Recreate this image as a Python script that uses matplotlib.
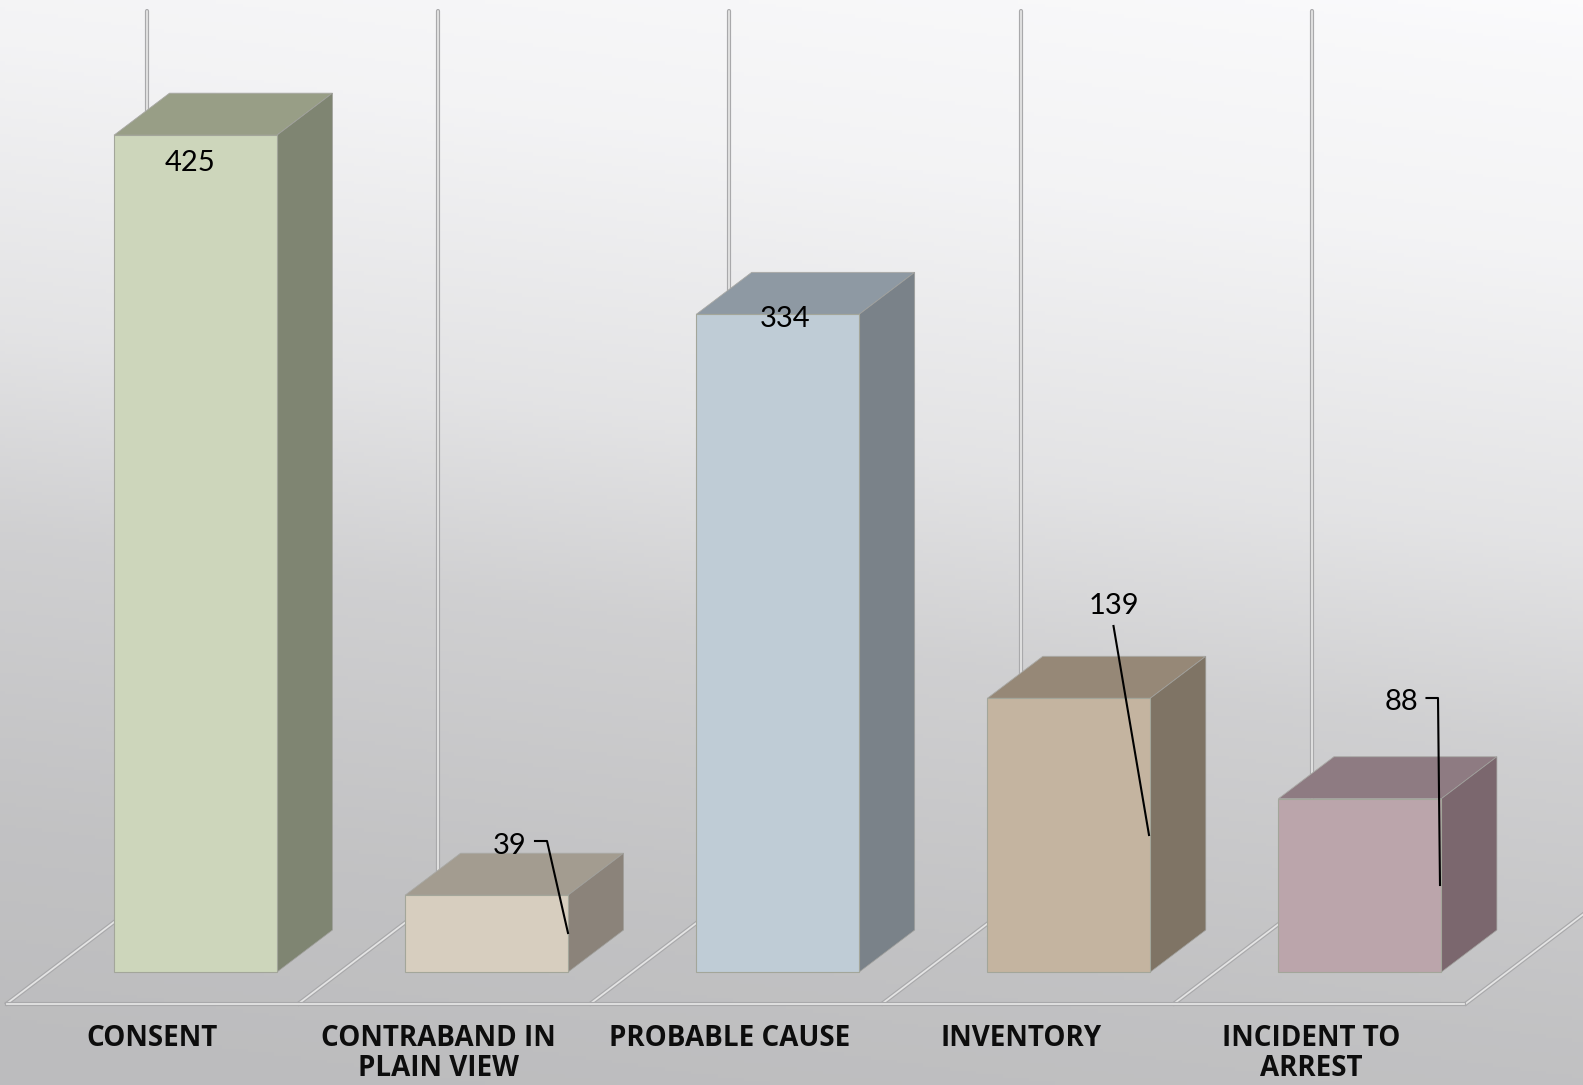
# Search basis bar chart, drawn as fake 3D columns
import numpy as np
import matplotlib
matplotlib.use('Agg')
import matplotlib.pyplot as plt

categories = ['CONSENT', 'CONTRABAND IN\nPLAIN VIEW', 'PROBABLE CAUSE', 'INVENTORY', 'INCIDENT TO\nARREST']
values = [425, 39, 334, 139, 88]
front_colors = ['#cdd6bb', '#d7cebf', '#bfccd6', '#c4b4a0', '#bba5ab']
top_colors = ['#989e86', '#a39c90', '#8e99a3', '#968877', '#8e7b82']
side_colors = ['#7f8572', '#8b837a', '#7a8289', '#7f7465', '#7b676e']

W, H = 1583, 1085
step_px = 291.1          # px between categories
first_px = 195.5         # px of first bar centre
base_px = 972            # px of value 0
unit_px = 1.969          # px per unit

fig = plt.figure(figsize=(W / 100, H / 100), dpi=100)
ax = fig.add_axes([0, 0, 1, 1])
ax.set_xlim(-first_px / step_px, (W - first_px) / step_px)
ax.set_ylim((base_px - H) / unit_px, base_px / unit_px)
ax.axis('off')


def px(x, y):
    # picture pixels to data coordinates, for labels and leaders
    return (x - first_px) / step_px, (base_px - y) / unit_px


# background gradient, tilted
yy, xx = np.mgrid[0:H:300j, 0:W:300j]
t = yy / H + 0.2 * (W - xx) / W
grey = np.interp(t, [0.0, 0.05, 0.24, 0.505, 0.69, 0.835, 0.965, 1.15],
                 [0.985, 0.975, 0.953, 0.89, 0.815, 0.785, 0.76, 0.74])
x0, x1 = ax.get_xlim()
y0, y1 = ax.get_ylim()
ax.imshow(np.dstack([grey, grey, grey + 0.006]).clip(0, 1), extent=[x0, x1, y0, y1],
          origin='upper', aspect='auto', zorder=0)
ax.set_xlim(x0, x1)
ax.set_ylim(y0, y1)

bar_w = 163 / step_px
depth_x = 55.5 / step_px
depth_y = 42 / unit_px

# floor and wall lines
floor_y = px(0, 1003.5)[1]
back_y = px(0, 897)[1]
top_y = px(0, 11)[1]
line_styles = [('#a9a9ab', 3.0), ('#e4e4e4', 1.3)]
for i in range(6):
    fx = px(7 + 291.8 * i, 0)[0]
    bx = px(147 + 291.2 * i, 0)[0]
    for col, lw in line_styles:
        ax.plot([fx, fx + 140 / step_px], [floor_y, back_y], color=col, lw=lw, zorder=1)
        ax.plot([bx, bx], [back_y, top_y], color=col, lw=lw, zorder=1, solid_capstyle='round')
for col, lw in line_styles:
    ax.plot([px(7, 0)[0], px(1464, 0)[0]], [floor_y, floor_y], color=col, lw=lw, zorder=1)

# columns
xpos = np.arange(len(values))
ax.bar(xpos, values, width=bar_w, color=front_colors, edgecolor='#a3a69a', linewidth=0.8, zorder=3)
for i, v in enumerate(values):
    l = xpos[i] - bar_w / 2
    r = xpos[i] + bar_w / 2
    ax.fill([l, r, r + depth_x, l + depth_x], [v, v, v + depth_y, v + depth_y],
            facecolor=top_colors[i], edgecolor='#a9a9a5', linewidth=0.6, zorder=2)
    ax.fill([r, r + depth_x, r + depth_x, r], [0, depth_y, v + depth_y, v],
            facecolor=side_colors[i], edgecolor='#a0a09c', linewidth=0.5, zorder=2)

# value labels and leaders, placed as in the picture
label_px = [(190, 163), (510, 845.5), (785, 319.5), (1113.5, 606.5), (1401, 701.5)]
leaders_px = {1: [(535, 841), (547, 841), (568, 933)],
              3: [(1113.5, 626), (1149, 835)],
              4: [(1426.5, 698), (1438, 698), (1440, 885)]}
for i, v in enumerate(values):
    lx, ly = px(*label_px[i])
    ax.text(lx, ly, str(v), ha='center', va='center', fontsize=21, family='Lato', color='black', zorder=6)
for pts in leaders_px.values():
    d = [px(*p) for p in pts]
    ax.plot([p[0] for p in d], [p[1] for p in d], color='black', lw=1.5, zorder=5)

# category labels under the wall lines
label_x_px = [152.5, 438.5, 730, 1021, 1311.5]
for i, c in enumerate(categories):
    cx = px(label_x_px[i], 0)[0]
    lines = c.split('\n')
    ax.text(cx, px(0, 1039)[1], lines[0], ha='center', va='center', fontsize=20,
            family='Open Sans', fontweight='bold', color='#0d0d0d', zorder=6)
    if len(lines) > 1:
        ax.text(cx, px(0, 1069)[1], lines[1], ha='center', va='center', fontsize=20,
                family='Open Sans', fontweight='bold', color='#0d0d0d', zorder=6)

fig.savefig('out.png', dpi=100)
